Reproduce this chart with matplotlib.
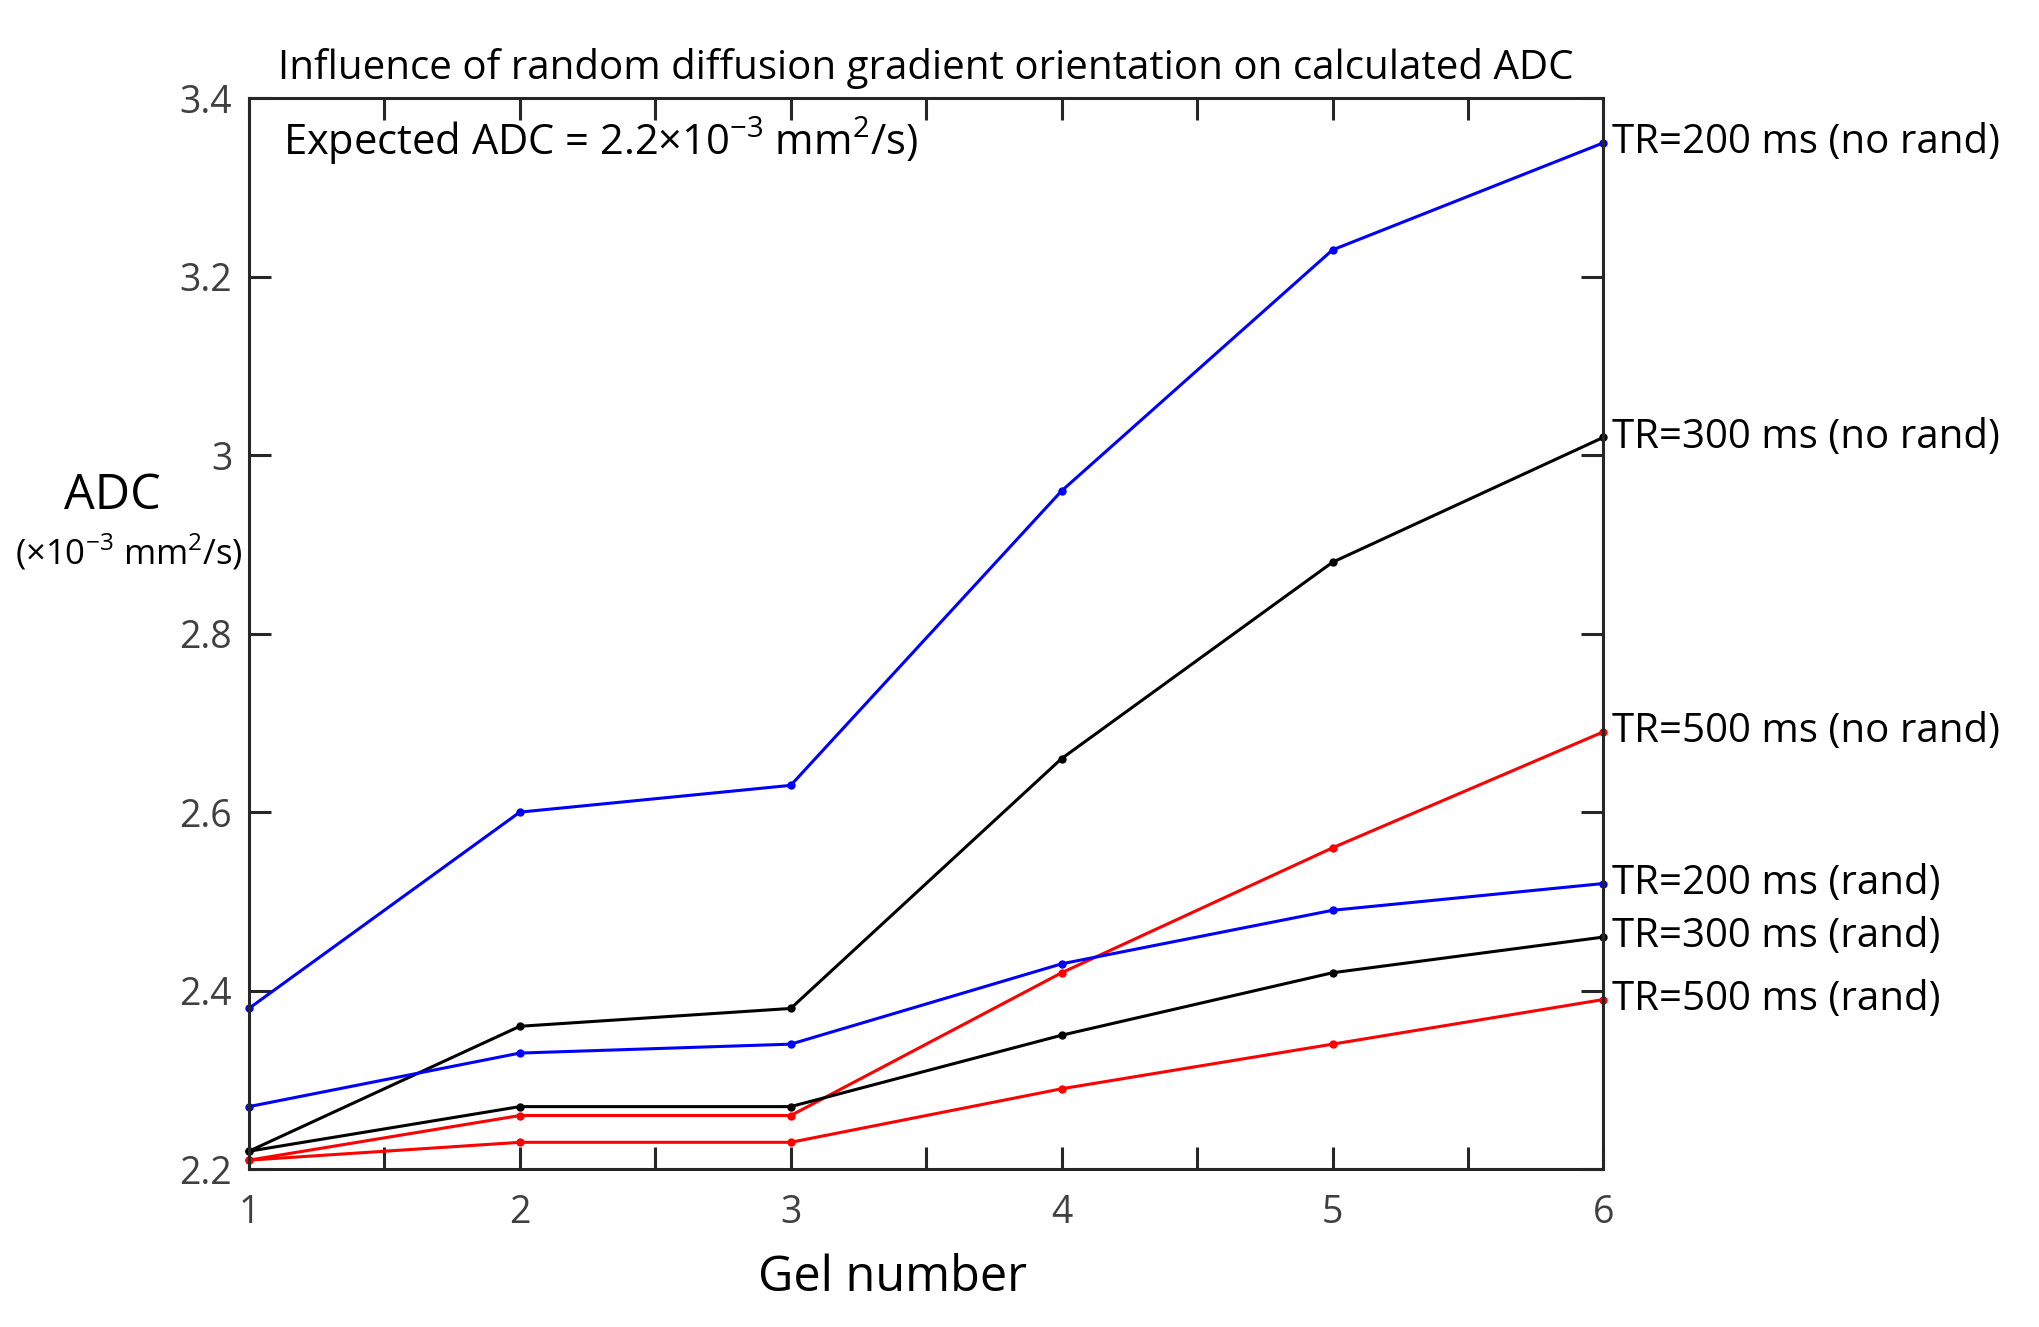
import matplotlib
matplotlib.use('Agg')
from matplotlib import pyplot as plt

plt.rcParams['font.family'] = ['Open Sans', 'DejaVu Sans']
plt.rcParams['mathtext.fontset'] = 'custom'
plt.rcParams['mathtext.rm'] = 'Open Sans'

gel = [1, 2, 3, 4, 5, 6]

tr200_norand = [2.38, 2.60, 2.63, 2.96, 3.23, 3.35]
tr300_norand = [2.22, 2.36, 2.38, 2.66, 2.88, 3.02]
tr500_norand = [2.21, 2.26, 2.26, 2.42, 2.56, 2.69]
tr200_rand = [2.27, 2.33, 2.34, 2.43, 2.49, 2.52]
tr300_rand = [2.22, 2.27, 2.27, 2.35, 2.42, 2.46]
tr500_rand = [2.21, 2.23, 2.23, 2.29, 2.34, 2.39]

series = [
    (tr200_norand, 'blue', 'TR=200 ms (no rand)'),
    (tr300_norand, 'black', 'TR=300 ms (no rand)'),
    (tr500_norand, 'red', 'TR=500 ms (no rand)'),
    (tr200_rand, 'blue', 'TR=200 ms (rand)'),
    (tr300_rand, 'black', 'TR=300 ms (rand)'),
    (tr500_rand, 'red', 'TR=500 ms (rand)'),
]

fig = plt.figure(figsize=(20.4, 13.27), dpi=100)
ax = fig.add_axes([0.1220, 0.1190, 0.6640, 0.8070])

for vals, col, lab in series:
    ax.plot(gel, vals, color=col, linewidth=2.2, marker='o', markersize=5, clip_on=False)
    ax.text(gel[-1] + 0.03, vals[-1], lab, fontsize=29, va='center', ha='left', color='black')

ax.set_xlim(1, 6)
ax.set_ylim(2.2, 3.4)
ax.set_xticks([1, 2, 3, 4, 5, 6])
ax.set_xticks([1.5, 2.5, 3.5, 4.5, 5.5], minor=True)
ax.set_yticks([2.2, 2.4, 2.6, 2.8, 3.0, 3.2, 3.4])
ax.set_yticklabels(['2.2', '2.4', '2.6', '2.8', '3', '3.2', '3.4'])

axcol = '#262626'
for s in ax.spines.values():
    s.set_color(axcol)
    s.set_linewidth(2.2)
ax.tick_params(which='both', direction='in', top=True, right=True, color=axcol, width=2.2)
ax.tick_params(which='major', length=16, labelsize=27, labelcolor='#404040', pad=12)
ax.tick_params(which='minor', length=16)
ax.tick_params(axis='x', pad=18)

ax.set_title('Influence of random diffusion gradient orientation on calculated ADC', fontsize=29, pad=14)

ax.text(0.025, 0.96, r'Expected ADC = 2.2$\times$10$^{-3}$ mm$^{2}$/s)', transform=ax.transAxes,
        fontsize=30, va='center', ha='left')

fig.text(0.4375, 0.037, 'Gel number', fontsize=35, ha='center', va='center')
fig.text(0.055, 0.626, 'ADC', fontsize=35, ha='center', va='center')
fig.text(0.063, 0.584, r'($\times$10$^{-3}$ mm$^{2}$/s)', fontsize=25, ha='center', va='center')

fig.savefig('out.png', dpi=100)
plt.close(fig)
